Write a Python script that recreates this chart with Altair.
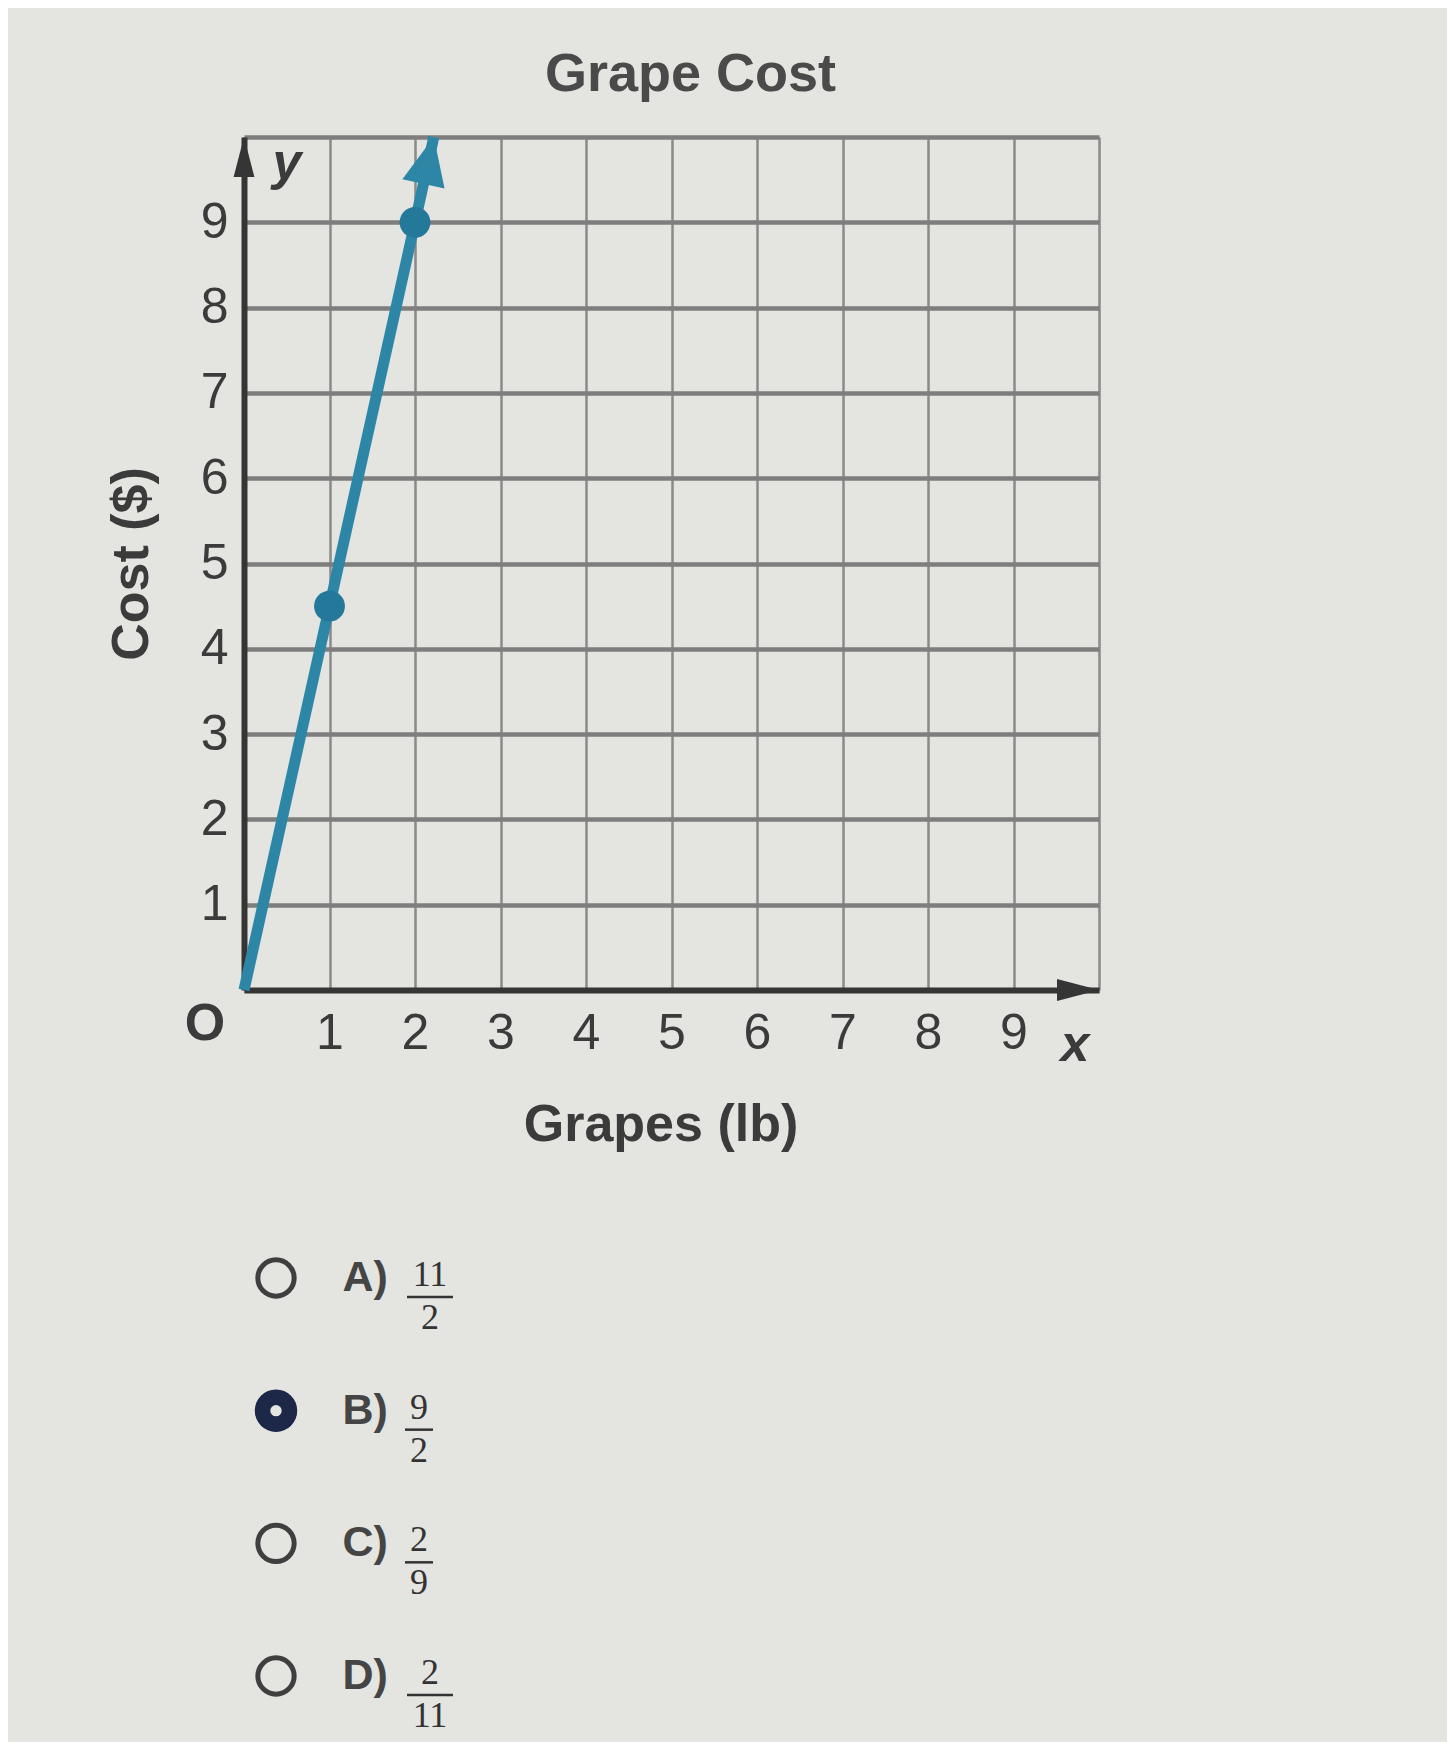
import math
import altair as alt
import pandas as pd

# ---------------- data ----------------
grapes_lb = [0, 1, 2, 2.22]          # line through the origin, arrow at the top edge
cost_usd = [0, 4.5, 9, 10]
marked_lb = [1, 2]                   # the two dots on the line
marked_cost = [4.5, 9]
axis_ticks = [0, 1, 2, 3, 4, 5, 6, 7, 8, 9, 10]
choice_letters = ["A", "B", "C", "D"]
choice_numerators = ["11", "9", "2", "2"]
choice_denominators = ["2", "2", "9", "11"]
selected_choice = "B"
chart_title = "Grape Cost"
x_title = "Grapes (lb)"
y_title = "Cost ($)"

# ---------------- styles ----------------
SANS = "Liberation Sans"
SERIF = "Liberation Serif"
TEAL = "#2d86a6"
TEAL_DARK = "#24789a"
INK = "#353535"
LABEL = "#3b3b3b"
BG = "#e4e4e0"
NAVY = "#1d2747"
PLOT_W, PLOT_H = 855, 853

# ---------------- tables ----------------
line_df = pd.DataFrame({"x": grapes_lb, "y": cost_usd})
pts_df = pd.DataFrame({"x": marked_lb, "y": marked_cost})
tip_df = line_df.tail(1)
x_end_df = pd.DataFrame({"x": [axis_ticks[-1]], "y": [axis_ticks[0]], "t": ["x"]})
y_end_df = pd.DataFrame({"x": [axis_ticks[0]], "y": [axis_ticks[-1]], "t": ["y"]})
origin_df = pd.DataFrame({"x": [axis_ticks[0]], "y": [axis_ticks[0]], "t": ["O"]})

cdf = pd.DataFrame({
    "choice": choice_letters,
    "num": choice_numerators,
    "den": choice_denominators,
})
cdf["label"] = cdf["choice"] + ")"
cdf["wide"] = [max(len(n), len(d)) > 1 for n, d in zip(choice_numerators, choice_denominators)]
cdf["selected"] = cdf["choice"] == selected_choice

# rotation of the arrow head along the last line segment (in pixel space)
seg_dx = (grapes_lb[-1] - grapes_lb[-2]) * PLOT_W / 10
seg_dy = (cost_usd[-1] - cost_usd[-2]) * PLOT_H / 10
tip_angle = math.degrees(math.atan2(seg_dx, seg_dy))

# ---------------- main graph ----------------
xs = alt.Scale(domain=[0, 10], nice=False, zero=False)
ys = alt.Scale(domain=[0, 10], nice=False, zero=False)

xaxis = alt.Axis(
    values=axis_ticks, grid=True, gridColor="#8a8a8a", gridWidth=2.5,
    domain=True, domainColor=INK, domainWidth=6, ticks=False,
    labelExpr="datum.value >= 1 && datum.value <= 9 ? datum.label : ''",
    labelFont=SANS, labelFontSize=50, labelColor=LABEL, labelPadding=18,
    labelOverlap=False, labelFlush=False,
    title=x_title, titleFont=SANS, titleFontSize=52, titleFontWeight="bold",
    titleColor=LABEL, titlePadding=41, titleX=PLOT_W / 2 - 11,
)
yaxis = alt.Axis(
    values=axis_ticks, grid=True, gridColor="#7e7e7e", gridWidth=4.5,
    domain=True, domainColor=INK, domainWidth=6, ticks=False,
    labelExpr="datum.value >= 1 && datum.value <= 9 ? datum.label : ''",
    labelFont=SANS, labelFontSize=50, labelColor=LABEL, labelPadding=16,
    labelOverlap=False, labelFlush=False,
    title=y_title, titleFont=SANS, titleFontSize=52, titleFontWeight="bold",
    titleColor=LABEL, titlePadding=42,
)

X = alt.X("x:Q", scale=xs, axis=xaxis)
Y = alt.Y("y:Q", scale=ys, axis=yaxis)

line = alt.Chart(line_df).mark_line(color=TEAL, strokeWidth=11, clip=False).encode(X, Y)
tip = alt.Chart(tip_df).mark_point(
    shape="M0,0L0.45,1L-0.45,1Z", size=9216, filled=True, opacity=1,
    color=TEAL, angle=tip_angle, strokeWidth=0,
).encode(X, Y)
pts = alt.Chart(pts_df).mark_circle(size=950, color=TEAL_DARK, opacity=1).encode(X, Y)
y_arrow = alt.Chart(y_end_df).mark_point(
    shape="M0,0L0.26,1L-0.26,1Z", size=6400, filled=True, opacity=1, color=INK, strokeWidth=0,
).encode(X, Y)
x_arrow = alt.Chart(x_end_df).mark_point(
    shape="M0,0L-1,-0.26L-1,0.26Z", size=7056, filled=True, opacity=1, color=INK, strokeWidth=0,
).encode(X, Y)
y_name = alt.Chart(y_end_df).mark_text(
    font=SANS, fontSize=52, fontStyle="italic", fontWeight="bold", color=LABEL, dx=43, dy=26,
).encode(X, Y, text="t:N")
x_name = alt.Chart(x_end_df).mark_text(
    font=SANS, fontSize=52, fontStyle="italic", fontWeight="bold", color=LABEL, dx=-24, dy=55,
).encode(X, Y, text="t:N")
o_name = alt.Chart(origin_df).mark_text(
    font=SANS, fontSize=52, fontWeight="bold", color=LABEL, dx=-39, dy=34,
).encode(X, Y, text="t:N")

main = alt.layer(line, tip, pts, y_arrow, x_arrow, y_name, x_name, o_name)

# ---------------- answer choices ----------------
CY = alt.Y("choice:N", scale=alt.Scale(type="point", domain=choice_letters,
                                       range=[1141, 1539], padding=0), axis=None)
CX = alt.X("col:N", scale=alt.Scale(type="point", domain=["radio", "letter", "frac"],
                                    range=[32, 175], padding=0), axis=None)
cbase = alt.Chart(cdf)

radio = cbase.transform_calculate(col="'radio'").mark_point(
    shape="circle", size=1320, filled=False, strokeWidth=5, color="#3f3f3f", opacity=1,
).encode(CX, CY)
radio_sel = cbase.transform_filter("datum.selected").transform_calculate(col="'radio'").mark_point(
    shape="circle", size=1800, filled=True, color=NAVY, opacity=1, strokeWidth=0,
).encode(CX, CY)
radio_dot = cbase.transform_filter("datum.selected").transform_calculate(col="'radio'").mark_point(
    shape="circle", size=130, filled=True, color=BG, opacity=1, strokeWidth=0,
).encode(CX, CY)
letters = cbase.transform_calculate(col="'letter'").mark_text(
    align="left", baseline="middle", font=SANS, fontSize=43, fontWeight="bold",
    color="#454545", dx=-5,
).encode(CX, CY, text="label:N")


def fraction_layers(wide):
    shift = 11 if wide else 0
    lo, hi = (-12, 34) if wide else (-14, 14)
    b = cbase.transform_filter(f"datum.wide == {str(wide).lower()}").transform_calculate(col="'frac'")
    num = b.mark_text(font=SERIF, fontSize=36, baseline="middle", align="center",
                      dx=shift, dy=-3, color="#333333").encode(CX, CY, text="num:N")
    den = b.mark_text(font=SERIF, fontSize=36, baseline="middle", align="center",
                      dx=shift, dy=40, color="#333333").encode(CX, CY, text="den:N")
    bar = b.mark_rule(xOffset=lo, x2Offset=hi, yOffset=19, strokeWidth=2.5,
                      color="#333333").encode(CX, alt.X2("col"), CY)
    return [num, den, bar]


choices = alt.layer(radio, radio_sel, radio_dot, letters,
                    *fraction_layers(False), *fraction_layers(True))

chart = (
    alt.layer(main, choices)
    .resolve_scale(x="independent", y="independent")
    .properties(
        width=PLOT_W, height=PLOT_H,
        title=alt.Title(chart_title, font=SANS, fontSize=54, fontWeight="bold",
                        color="#4a4a4a", frame="group", anchor="middle", dx=19, offset=10),
        autosize=alt.AutoSizeParams(type="none"),
        padding={"left": 236, "top": 129, "right": 348, "bottom": 752},
        background=BG,
    )
    .configure_view(stroke=None)
)

chart.save("out.html", embed_options={"renderer": "svg", "actions": False})
